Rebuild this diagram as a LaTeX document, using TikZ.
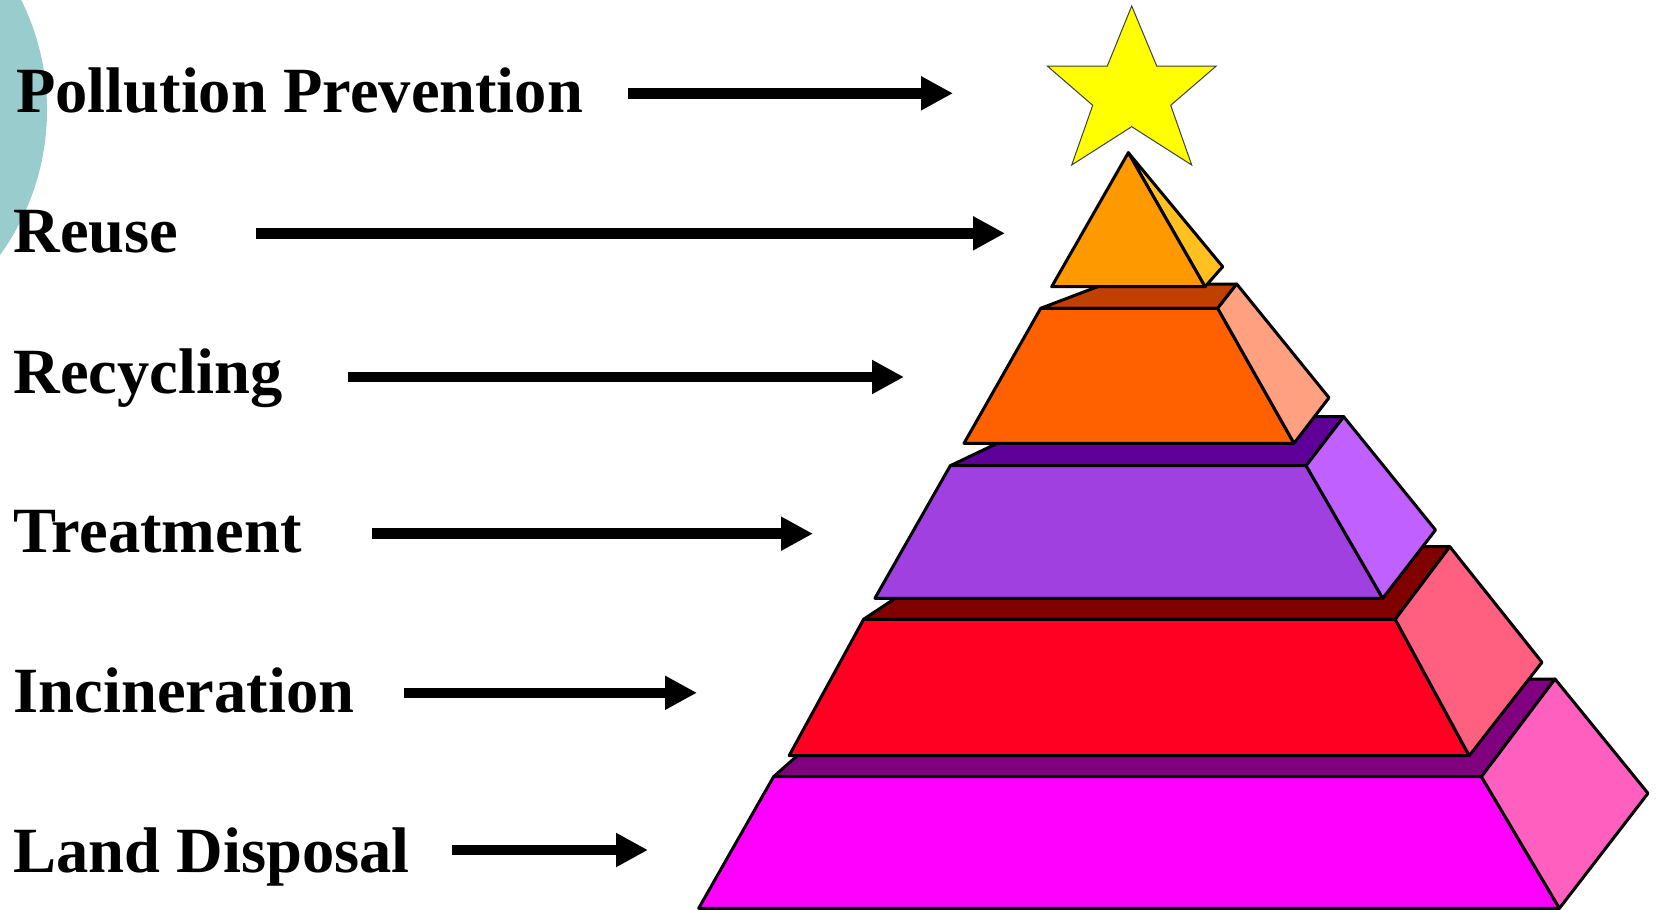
\documentclass[tikz,border=0pt]{standalone}
\usepackage{fontspec}
\setmainfont{Liberation Serif}
\usetikzlibrary{arrows.meta}
\definecolor{teal0}{HTML}{99CCCC}
\definecolor{starY}{HTML}{FFFF00}
\definecolor{l1front}{HTML}{FF9900}
\definecolor{l1side}{HTML}{FFC020}
\definecolor{l2top}{HTML}{C04000}
\definecolor{l2front}{HTML}{FF6000}
\definecolor{l2side}{HTML}{FFA080}
\definecolor{l3top}{HTML}{5F0099}
\definecolor{l3front}{HTML}{A040E0}
\definecolor{l3side}{HTML}{C060FF}
\definecolor{l4top}{HTML}{800000}
\definecolor{l4front}{HTML}{FF0022}
\definecolor{l4side}{HTML}{FF6080}
\definecolor{l5top}{HTML}{800080}
\definecolor{l5front}{HTML}{FF00FF}
\definecolor{l5side}{HTML}{FF60C0}
\begin{document}
\begin{tikzpicture}[x=1pt,y=-1pt,
  lbl/.style={anchor=base west, inner sep=0pt, font=\fontsize{64.5}{70}\selectfont\bfseries},
  pointer/.style={line width=10.5pt, -{Triangle[length=32pt,width=32pt]}},
  face/.style={draw=black, line width=3pt, line join=round}]
\useasboundingbox (0,0) rectangle (1658,910);
\fill[white] (0,0) rectangle (1658,910);
% teal circle at the left edge
\fill[teal0] (-200,110) circle (247);

% labels
\node[lbl] (t1) at (16,112) {Pollution Prevention};
\node[lbl] (t2) at (13.5,252) {Reuse};
\node[lbl] (t3) at (13.5,393) {Recycling};
\node[lbl] (t4) at (13.5,552) {Treatment};
\node[lbl] (t5) at (13.5,712) {Incineration};
\node[lbl] (t6) at (13.5,872) {Land Disposal};

% arrow end points
\coordinate (a1s) at (628,93.3);  \coordinate (a1e) at (953,93.3);
\coordinate (a2s) at (256,233.3); \coordinate (a2e) at (1005,233.3);
\coordinate (a3s) at (348,377);   \coordinate (a3e) at (904,377);
\coordinate (a4s) at (372,533.7); \coordinate (a4e) at (813,533.7);
\coordinate (a5s) at (404,692.8); \coordinate (a5e) at (697,692.8);
\coordinate (a6s) at (452,850);   \coordinate (a6e) at (648,850);
\draw[pointer] (a1s) -- (a1e);
\draw[pointer] (a2s) -- (a2e);
\draw[pointer] (a3s) -- (a3e);
\draw[pointer] (a4s) -- (a4e);
\draw[pointer] (a5s) -- (a5e);
\draw[pointer] (a6s) -- (a6e);

% layer 5 (land disposal)
\filldraw[face, fill=l5top] (773.6,776.7) -- (1481.4,776.7) -- (1555,679) -- (883.6,679) -- cycle;
\filldraw[face, fill=l5front] (773.6,776.7) -- (1481.4,776.7) -- (1559.4,908.3) -- (698.7,908.3) -- cycle;
\filldraw[face, fill=l5side] (1481.4,776.7) -- (1555,679) -- (1648,793.3) -- (1559.4,908.3) -- cycle;

% layer 4 (incineration)
\filldraw[face, fill=l4top] (863.6,619.3) -- (1395.2,619.3) -- (1449.8,546.7) -- (972.6,546.7) -- cycle;
\filldraw[face, fill=l4front] (863.6,619.3) -- (1395.2,619.3) -- (1469.2,755.7) -- (789.1,755.7) -- cycle;
\filldraw[face, fill=l4side] (1395.2,619.3) -- (1449.8,546.7) -- (1542,662.3) -- (1469.2,755.7) -- cycle;

% layer 3 (treatment)
\filldraw[face, fill=l3top] (950.3,465.7) -- (1306.1,465.7) -- (1343.7,416.7) -- (1053,416.7) -- cycle;
\filldraw[face, fill=l3front] (950.3,465.7) -- (1306.1,465.7) -- (1382.7,598.3) -- (874.9,598.3) -- cycle;
\filldraw[face, fill=l3side] (1306.1,465.7) -- (1343.7,416.7) -- (1435.5,530) -- (1382.7,598.3) -- cycle;

% layer 2 (recycling)
\filldraw[face, fill=l2top] (1040.7,308.3) -- (1217.7,308.3) -- (1236.7,284) -- (1104.7,284) -- cycle;
\filldraw[face, fill=l2front] (1040.7,308.3) -- (1217.7,308.3) -- (1294,443.3) -- (964,443.3) -- cycle;
\filldraw[face, fill=l2side] (1217.7,308.3) -- (1236.7,284) -- (1329,397.7) -- (1294,443.3) -- cycle;

% layer 1 (reuse)
\filldraw[face, fill=l1side] (1128.3,152.7) -- (1222.7,266.7) -- (1205,286.7) -- cycle;
\filldraw[face, fill=l1front] (1128.3,152.7) -- (1205,286.7) -- (1051.7,286.7) -- cycle;

% star
\filldraw[fill=starY, draw=black!75, line width=1pt, line join=miter]
  (1131.7,6) -- (1156.7,66) -- (1216.3,66) -- (1170.7,105.3) -- (1191.7,165)
  -- (1131.7,126.7) -- (1071.7,165) -- (1092.7,105.3) -- (1047.3,66)
  -- (1107.3,66) -- cycle;
\end{tikzpicture}
\end{document}
